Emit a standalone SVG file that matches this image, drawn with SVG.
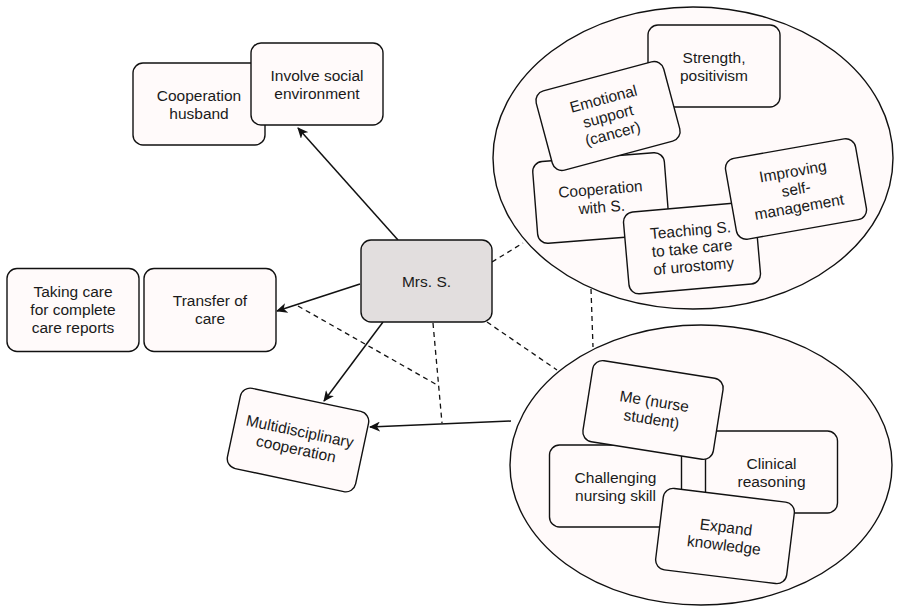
<svg xmlns="http://www.w3.org/2000/svg" width="908" height="607" viewBox="0 0 908 607">
<style>
.box{fill:#fffafa;stroke:#111;stroke-width:1.4}
.main{fill:#e2dede;stroke:#111;stroke-width:1.4}
.ell{fill:#fffafa;stroke:#111;stroke-width:1.4}
text{font-family:"Liberation Sans",Arial,Helvetica,sans-serif;font-size:15.5px;fill:#1a1a1a;text-anchor:middle}
.solid{stroke:#111;stroke-width:1.5;fill:none}
.dash{stroke:#111;stroke-width:1.3;fill:none;stroke-dasharray:5 4}
</style>
<defs>
<marker id="arr" markerWidth="12" markerHeight="10" refX="10" refY="5" orient="auto" markerUnits="userSpaceOnUse">
<path d="M0,0 L11,5 L0,10 L3,5 z" fill="#111"/>
</marker>
</defs>

<g id="connectors">
<line class="dash" x1="492" y1="262" x2="523" y2="243"/>
<line class="dash" x1="487" y1="322" x2="557" y2="370"/>
<line class="dash" x1="433" y1="323" x2="442" y2="423"/>
<line class="dash" x1="298" y1="306" x2="439" y2="386"/>
<line class="dash" x1="591" y1="289" x2="593" y2="347"/>
</g>

<g id="ellipse-top"><ellipse class="ell" cx="693" cy="158" rx="200" ry="151"/></g>
<g id="ellipse-bottom"><ellipse class="ell" cx="701" cy="465" rx="191" ry="140"/></g>

<g id="arrows">
<line class="solid" x1="398" y1="240" x2="298" y2="128" marker-end="url(#arr)"/>
<line class="solid" x1="360" y1="284" x2="277" y2="311" marker-end="url(#arr)"/>
<line class="solid" x1="383" y1="322" x2="324" y2="401" marker-end="url(#arr)"/>
<line class="solid" x1="511" y1="421" x2="370" y2="427" marker-end="url(#arr)"/>
</g>

<g id="coop-husband" transform="translate(199,104)"><rect class="box" x="-66" y="-41" width="132" height="82" rx="10"/><text y="-3.5">Cooperation</text><text y="14.5">husband</text></g>
<g id="involve" transform="translate(317,84)"><rect class="box" x="-66" y="-41" width="132" height="82" rx="10"/><text y="-3.5">Involve social</text><text y="14.5">environment</text></g>
<g id="mrs-s" transform="translate(426.5,281)"><rect class="main" x="-65.5" y="-41" width="131" height="82" rx="10"/><text y="5.5">Mrs. S.</text></g>
<g id="taking-care" transform="translate(73,309.5)"><rect class="box" x="-66" y="-41" width="132" height="83" rx="10"/><text y="-12.5">Taking care</text><text y="5.5">for complete</text><text y="23.5">care reports</text></g>
<g id="transfer" transform="translate(210,309.5)"><rect class="box" x="-66" y="-41" width="132" height="83" rx="10"/><text y="-3.5">Transfer of</text><text y="14.5">care</text></g>
<g id="multi" transform="translate(298,440) rotate(12)"><rect class="box" x="-65.5" y="-41" width="131" height="82" rx="10"/><text y="-3.5">Multidisciplinary</text><text y="14.5">cooperation</text></g>

<g id="strength" transform="translate(714,66)"><rect class="box" x="-66" y="-41" width="132" height="82" rx="10"/><text y="-3.5">Strength,</text><text y="14.5">positivism</text></g>
<g id="coop-s" transform="translate(601,198) rotate(-4.5)"><rect class="box" x="-66" y="-41" width="132" height="82" rx="10"/><text y="-3.5">Cooperation</text><text y="14.5">with S.</text></g>
<g id="emotional" transform="translate(608,116) rotate(-15)"><rect class="box" x="-66" y="-41" width="132" height="82" rx="10"/><text y="-12.5">Emotional</text><text y="5.5">support</text><text y="23.5">(cancer)</text></g>
<g id="teaching" transform="translate(692,248) rotate(-5)"><rect class="box" x="-66" y="-41" width="132" height="82" rx="10"/><text y="-12.5">Teaching S.</text><text y="5.5">to take care</text><text y="23.5">of urostomy</text></g>
<g id="improving" transform="translate(796,189) rotate(-10)"><rect class="box" x="-66" y="-41" width="132" height="82" rx="10"/><text y="-12.5">Improving</text><text y="5.5">self-</text><text y="23.5">management</text></g>

<g id="challenging" transform="translate(615.5,486)"><rect class="box" x="-66" y="-41" width="132" height="82" rx="10"/><text y="-3.5">Challenging</text><text y="14.5">nursing skill</text></g>
<g id="clinical" transform="translate(771.5,472)"><rect class="box" x="-66" y="-41" width="132" height="82" rx="10"/><text y="-3.5">Clinical</text><text y="14.5">reasoning</text></g>
<g id="me" transform="translate(653,410) rotate(9)"><rect class="box" x="-66" y="-41" width="132" height="82" rx="10"/><text y="-3.5">Me (nurse</text><text y="14.5">student)</text></g>
<g id="expand" transform="translate(725,536) rotate(7)"><rect class="box" x="-66" y="-41" width="132" height="82" rx="10"/><text y="-3.5">Expand</text><text y="14.5">knowledge</text></g>
</svg>
